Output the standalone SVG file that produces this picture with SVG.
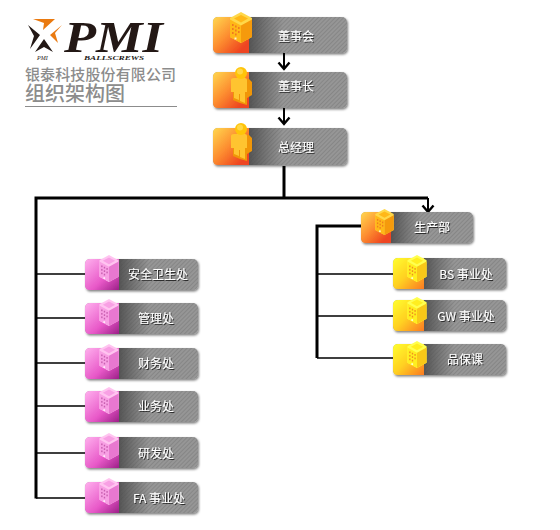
<svg xmlns="http://www.w3.org/2000/svg" xmlns:xlink="http://www.w3.org/1999/xlink" width="560" height="530" viewBox="0 0 560 530">
<style>
.bar{fill:url(#stripes)}
.fade{fill:url(#fade)}
.card{filter:url(#shadow)}
.label{font-family:"Noto Sans CJK SC","Liberation Sans",sans-serif;font-size:12px;fill:#fff;text-anchor:middle;filter:url(#tshadow)}
.thick{fill:none;stroke:#000;stroke-width:3}
.thin{fill:none;stroke:#000;stroke-width:1.5}
.arrow{fill:none;stroke:#000;stroke-width:2;marker-end:url(#chev)}
.co{font-family:"Noto Sans CJK SC",sans-serif;fill:#8c8c8c}
.orange{--t:#ffd84a;--l:#ffb818;--r:#f59a0c;--w:#f07a20;--a:url(#gOrange)}
.pink{--t:#ffc4f0;--l:#f8a0e4;--r:#e878d0;--w:#c860b0;--a:url(#gPink)}
.yellow{--t:#ffff50;--l:#ffee20;--r:#f8c818;--w:#f09020;--a:url(#gYellow)}
.acc{fill:var(--a)}
</style>
<defs>
<pattern id="stripes" width="3" height="3" patternUnits="userSpaceOnUse" patternTransform="rotate(45)">
<rect width="3" height="3" fill="#969696"/><rect width="1" height="3" fill="#868686"/>
</pattern>
<linearGradient id="fade" x1="0" x2="1" y1="0" y2="0"><stop offset="0" stop-color="#4a4a4a" stop-opacity=".85"/><stop offset="1" stop-color="#4a4a4a" stop-opacity="0"/></linearGradient>
<linearGradient id="gOrange" x1="0" y1="0" x2="1" y2="1"><stop offset="0" stop-color="#ffd850"/><stop offset=".45" stop-color="#fd8e30"/><stop offset=".85" stop-color="#ee4420"/></linearGradient>
<linearGradient id="gPink" x1="0" y1="0" x2="1" y2="1"><stop offset="0" stop-color="#ffb0ee"/><stop offset=".6" stop-color="#e858c8"/><stop offset="1" stop-color="#9c2088"/></linearGradient>
<linearGradient id="gYellow" x1="0" y1="0" x2="1" y2="1"><stop offset="0" stop-color="#ffff30"/><stop offset=".5" stop-color="#ffd020"/><stop offset="1" stop-color="#fb7a20"/></linearGradient>
<filter id="shadow" x="-8%" y="-15%" width="116%" height="135%"><feDropShadow dx="1" dy="1.5" stdDeviation="1.2" flood-color="#000" flood-opacity=".5"/></filter>
<filter id="tshadow" x="-10%" y="-20%" width="120%" height="140%"><feDropShadow dx="1" dy="1" stdDeviation=".3" flood-color="#222" flood-opacity=".9"/></filter>
<marker id="chev" markerUnits="userSpaceOnUse" viewBox="-8 -8 10 16" refX="0" refY="0" markerWidth="10" markerHeight="16" orient="auto">
<path d="M-6.500,-5.500 L0,0 L-6.500,5.500" fill="none" stroke="#000" stroke-width="2.400"/>
</marker>
<symbol id="building" viewBox="0 0 22 31" overflow="visible">
<path d="M11,0 L22,6 V25 L11,31 L0,25 V6 Z" fill="var(--t)"/>
<path d="M0,7.500 L11,13.500 V31 L0,25 Z" fill="var(--l)"/>
<path d="M11,13.500 L22,7.500 V25 L11,31 Z" fill="var(--r)"/>
<path d="M4,6.500 L11,3 L18,6.500 L11,10.500 Z" fill="var(--l)"/>
<g fill="var(--w)">
<rect x="2" y="12" width="1.600" height="2"/><rect x="5" y="13.500" width="1.600" height="2"/><rect x="8" y="15" width="1.600" height="2"/>
<rect x="2" y="16" width="1.600" height="2"/><rect x="5" y="17.500" width="1.600" height="2"/><rect x="8" y="19" width="1.600" height="2"/>
<rect x="2" y="20" width="1.600" height="2"/><rect x="5" y="21.500" width="1.600" height="2"/>
</g>
<rect x="4.500" y="25.500" width="2" height="2" fill="#fff" opacity=".8"/>
</symbol>
<symbol id="person" viewBox="0 0 21 38" overflow="visible">
<path d="M6,12 H18 L21,15 V28 L16,31 V38 L9,36 L2,33 V12 Z" fill="#f09608"/>
<path d="M0,13 Q0,11 3,11 H14 Q16,11 16,13 V25 H14 V36 L9,34 V27 H8 V33 L3,31 V25 H0 Z" fill="#ffc430"/>
<circle cx="10" cy="6" r="6" fill="#ffc408"/>
<circle cx="9" cy="4.500" r="3" fill="#ffe060" opacity=".7"/>
</symbol>
</defs>

<rect width="560" height="530" fill="#fff"/>

<g id="logo">
<polygon points="33,19 55,19 43,30 44,23" fill="#ea7a10"/>
<polygon points="28,25 40,35 30,49 34,36" fill="#231815"/>
<polygon points="62,25 50,35 58,43 55,33" fill="#ea7a10"/>
<polygon points="44,39 35,52 44,47 53,52" fill="#231815"/>
<text x="64" y="52" font-family="Liberation Serif,serif" font-style="italic" font-weight="bold" font-size="44" fill="#231815" textLength="99" lengthAdjust="spacingAndGlyphs">PMI</text>
<text x="37" y="60" font-family="Liberation Serif,serif" font-style="italic" font-size="6" fill="#231815">PMI</text>
<text x="84" y="60" font-family="Liberation Serif,serif" font-style="italic" font-weight="bold" font-size="7" fill="#231815" textLength="60" lengthAdjust="spacingAndGlyphs">BALLSCREWS</text>
<text class="co" x="25" y="80" font-size="15" font-weight="500" textLength="151">银泰科技股份有限公司</text>
<text class="co" x="25" y="101" font-size="20" font-weight="500">组织架构图</text>
<rect x="25" y="106" width="152" height="1" fill="#8c8c8c"/>
</g>

<g id="connectors">
<path class="arrow" d="M284,53 V69"/>
<path class="arrow" d="M284,108 V124"/>
<path class="thick" d="M284,166 V198"/>
<path class="thick" d="M428,198 H36 V498.500"/>
<path class="arrow" d="M428,198 V212"/>
<path class="thick" d="M361,226 H317 V358"/>
<path class="thin" d="M36,274 H85 M36,318 H85 M36,363 H85 M36,406 H85 M36,453 H85 M36,498 H85"/>
<path class="thin" d="M317,274 H393 M317,316 H393 M317,358 H393"/>
</g>

<g id="n1" class="orange">
<g class="card"><rect class="bar" x="213" y="17" width="134" height="36" rx="5"/><rect class="fade" x="249" y="17" width="34" height="36"/><path class="acc" d="M218,17 H249 V53 H218 Q213,53 213,48 V22 Q213,17 218,17 Z"/></g>
<use xlink:href="#building" href="#building" x="230" y="12" width="22" height="31"/>
<text class="label" x="296" y="41">董事会</text>
</g>
<g id="n2" class="orange">
<g class="card"><rect class="bar" x="213" y="72" width="134" height="36" rx="5"/><rect class="fade" x="249" y="72" width="34" height="36"/><path class="acc" d="M218,72 H249 V108 H218 Q213,108 213,103 V77 Q213,72 218,72 Z"/></g>
<use xlink:href="#person" href="#person" x="231" y="67" width="21" height="38"/>
<text class="label" x="296" y="91">董事长</text>
</g>
<g id="n3" class="orange">
<g class="card"><rect class="bar" x="213" y="128" width="134" height="37" rx="5"/><rect class="fade" x="249" y="128" width="34" height="37"/><path class="acc" d="M218,128 H249 V165 H218 Q213,165 213,160 V133 Q213,128 218,128 Z"/></g>
<use xlink:href="#person" href="#person" x="231" y="123" width="21" height="38"/>
<text class="label" x="296" y="152">总经理</text>
</g>
<g id="n4" class="orange">
<g class="card"><rect class="bar" x="361" y="212" width="112" height="31" rx="5"/><rect class="fade" x="391" y="212" width="30" height="31"/><path class="acc" d="M366,212 H391 V243 H366 Q361,243 361,238 V217 Q361,212 366,212 Z"/></g>
<use xlink:href="#building" href="#building" x="375" y="209" width="19" height="26"/>
<text class="label" x="432" y="232">生产部</text>
</g>

<g id="p1" class="pink">
<g class="card"><rect class="bar" x="85" y="259" width="113" height="31" rx="5"/><rect class="fade" x="119" y="259" width="30" height="31"/><path class="acc" d="M90,259 H119 V290 H90 Q85,290 85,285 V264 Q85,259 90,259 Z"/></g>
<use xlink:href="#building" href="#building" x="99" y="255" width="20" height="27"/>
<text class="label" x="158" y="279">安全卫生处</text>
</g>
<g id="p2" class="pink">
<g class="card"><rect class="bar" x="85" y="303" width="113" height="31" rx="5"/><rect class="fade" x="119" y="303" width="30" height="31"/><path class="acc" d="M90,303 H119 V334 H90 Q85,334 85,329 V308 Q85,303 90,303 Z"/></g>
<use xlink:href="#building" href="#building" x="99" y="299" width="20" height="27"/>
<text class="label" x="156" y="323">管理处</text>
</g>
<g id="p3" class="pink">
<g class="card"><rect class="bar" x="85" y="348" width="113" height="31" rx="5"/><rect class="fade" x="119" y="348" width="30" height="31"/><path class="acc" d="M90,348 H119 V379 H90 Q85,379 85,374 V353 Q85,348 90,348 Z"/></g>
<use xlink:href="#building" href="#building" x="99" y="344" width="20" height="27"/>
<text class="label" x="156" y="368">财务处</text>
</g>
<g id="p4" class="pink">
<g class="card"><rect class="bar" x="85" y="391" width="113" height="31" rx="5"/><rect class="fade" x="119" y="391" width="30" height="31"/><path class="acc" d="M90,391 H119 V422 H90 Q85,422 85,417 V396 Q85,391 90,391 Z"/></g>
<use xlink:href="#building" href="#building" x="99" y="387" width="20" height="27"/>
<text class="label" x="156" y="411">业务处</text>
</g>
<g id="p5" class="pink">
<g class="card"><rect class="bar" x="85" y="437" width="113" height="31" rx="5"/><rect class="fade" x="119" y="437" width="30" height="31"/><path class="acc" d="M90,437 H119 V468 H90 Q85,468 85,463 V442 Q85,437 90,437 Z"/></g>
<use xlink:href="#building" href="#building" x="99" y="433" width="20" height="27"/>
<text class="label" x="156" y="458">研发处</text>
</g>
<g id="p6" class="pink">
<g class="card"><rect class="bar" x="85" y="482" width="113" height="31" rx="5"/><rect class="fade" x="119" y="482" width="30" height="31"/><path class="acc" d="M90,482 H119 V513 H90 Q85,513 85,508 V487 Q85,482 90,482 Z"/></g>
<use xlink:href="#building" href="#building" x="99" y="478" width="20" height="27"/>
<text class="label" x="159" y="503">FA 事业处</text>
</g>

<g id="y1" class="yellow">
<g class="card"><rect class="bar" x="393" y="258" width="113" height="31" rx="5"/><rect class="fade" x="424" y="258" width="30" height="31"/><path class="acc" d="M398,258 H424 V289 H398 Q393,289 393,284 V263 Q393,258 398,258 Z"/></g>
<use xlink:href="#building" href="#building" x="407" y="255" width="20" height="27"/>
<text class="label" x="466" y="279">BS 事业处</text>
</g>
<g id="y2" class="yellow">
<g class="card"><rect class="bar" x="393" y="300" width="113" height="31" rx="5"/><rect class="fade" x="424" y="300" width="30" height="31"/><path class="acc" d="M398,300 H424 V331 H398 Q393,331 393,326 V305 Q393,300 398,300 Z"/></g>
<use xlink:href="#building" href="#building" x="407" y="297" width="20" height="27"/>
<text class="label" x="466" y="321">GW 事业处</text>
</g>
<g id="y3" class="yellow">
<g class="card"><rect class="bar" x="393" y="344" width="113" height="31" rx="5"/><rect class="fade" x="424" y="344" width="30" height="31"/><path class="acc" d="M398,344 H424 V375 H398 Q393,375 393,370 V349 Q393,344 398,344 Z"/></g>
<use xlink:href="#building" href="#building" x="407" y="341" width="20" height="27"/>
<text class="label" x="465" y="364">品保课</text>
</g>
</svg>
